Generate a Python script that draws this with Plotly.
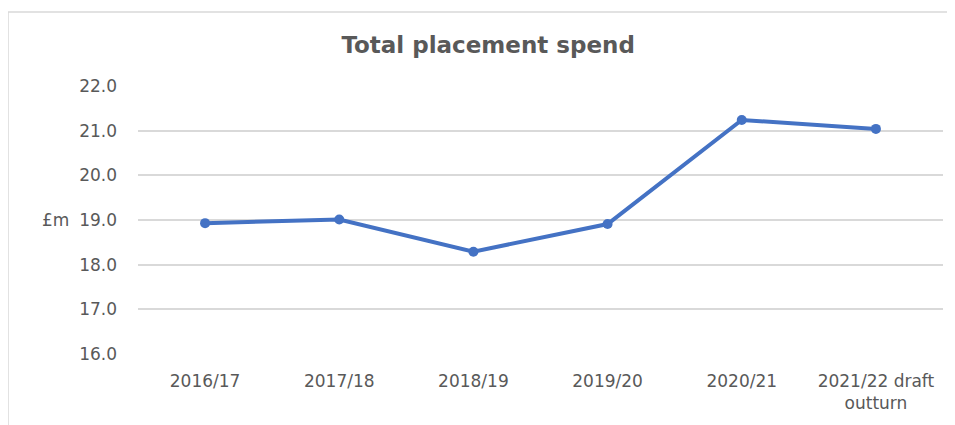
import plotly.graph_objects as go

# Total placement spend, £m
years = ["2016/17", "2017/18", "2018/19", "2019/20", "2020/21", "2021/22 draft<br>outturn"]
spend = [18.93, 19.01, 18.29, 18.91, 21.24, 21.04]
y_ticks = [16.0, 17.0, 18.0, 19.0, 20.0, 21.0, 22.0]

grey_text = "#595959"

fig = go.Figure()
fig.add_trace(go.Scatter(
    x=years, y=spend,
    mode="lines+markers",
    line=dict(color="#4472C4", width=4),
    marker=dict(color="#4472C4", size=10),
    hoverinfo="x+y",
))

# page body adds 8px, so the figure is a bit smaller than the window
fig.update_layout(
    width=947, height=417,
    margin=dict(l=130, r=12, t=78, b=71),
    paper_bgcolor="white", plot_bgcolor="white",
    font=dict(family="DejaVu Sans", size=17, color=grey_text),
    showlegend=False,
    title=dict(text="<b>Total placement spend</b>", x=0.507, xanchor="center",
               y=0.911, yanchor="middle",
               font=dict(family="DejaVu Sans", size=23, color=grey_text)),
    xaxis=dict(range=[-0.5, 5.5], showgrid=False, showline=False, ticks="",
               ticklabelstandoff=15, tickfont=dict(size=17, color=grey_text)),
    yaxis=dict(range=[16, 22], tickvals=y_ticks, tickformat=".1f",
               showgrid=True, gridcolor="#d9d9d9", gridwidth=1.5,
               zeroline=False, showline=False, ticks="", ticklabelstandoff=20,
               tickfont=dict(size=17, color=grey_text)),
)

# y axis label, horizontal as in the original
fig.add_annotation(text="£m", xref="paper", yref="y", x=-0.103, y=19.0,
                   showarrow=False, xanchor="center", yanchor="middle",
                   font=dict(size=17, color=grey_text))

# chart border
fig.add_shape(type="rect", xref="paper", yref="paper",
              x0=-0.1615, y0=-0.3, x1=1.2, y1=1.276,
              line=dict(color="#d9d9d9", width=1.5), layer="below")

fig.write_html("out.html")
